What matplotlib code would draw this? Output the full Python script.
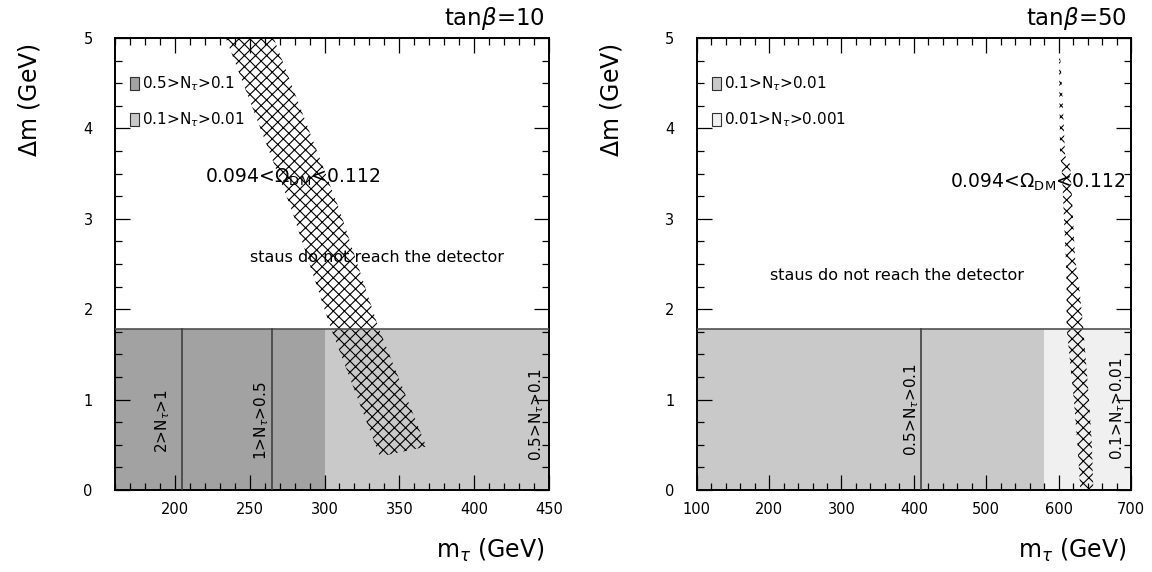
import matplotlib
matplotlib.use('Agg')
import matplotlib.pyplot as plt
from matplotlib.patches import Rectangle
from matplotlib.ticker import MultipleLocator

plt.rcParams['font.family'] = 'DejaVu Sans'
plt.rcParams['hatch.linewidth'] = 0.8

TAU_MASS = 1.777

# tan(beta) = 10
tb10_edges = [160, 205, 265, 300, 450]
tb10_shade = ['#a2a2a2', '#a2a2a2', '#a2a2a2', '#c9c9c9']
tb10_dividers = [205, 265]
tb10_band_labels = [r'2>N$_\tau$>1', r'1>N$_\tau$>0.5', r'0.5>N$_\tau$>0.1']
tb10_legend = [r'0.5>N$_\tau$>0.1', r'0.1>N$_\tau$>0.01']
tb10_legend_col = ['#a2a2a2', '#c9c9c9']
# relic density band (left edge top->bottom, then right edge bottom->top)
tb10_om_m = [234, 278, 304, 337, 368, 336, 310, 266]
tb10_om_dm = [5.0, 3.1, 1.8, 0.37, 0.48, 1.8, 3.1, 5.0]

# tan(beta) = 50
tb50_edges = [100, 410, 580, 700]
tb50_shade = ['#c9c9c9', '#c9c9c9', '#f0f0f0']
tb50_dividers = [410]
tb50_band_labels = [r'0.5>N$_\tau$>0.1', r'0.1>N$_\tau$>0.01']
tb50_legend = [r'0.1>N$_\tau$>0.01', r'0.01>N$_\tau$>0.001']
tb50_legend_col = ['#c9c9c9', '#f0f0f0']
tb50_om_m = [600.5, 601, 602, 604, 610, 611, 611, 621, 626, 630,
             648, 646, 642, 634, 628, 623, 616, 609, 605, 601.5]
tb50_om_dm = [4.9, 4.4, 3.7, 3.6, 2.54, 2.29, 1.8, 1.0, 0.5, 0.0,
              0.0, 0.5, 1.0, 1.8, 2.29, 2.54, 3.6, 3.7, 4.4, 4.9]


def style_axes(ax, xlim, xmajor, xminor):
    ax.set_xlim(xlim)
    ax.set_ylim(0, 5)
    ax.xaxis.set_major_locator(MultipleLocator(xmajor))
    ax.xaxis.set_minor_locator(MultipleLocator(xminor))
    ax.yaxis.set_major_locator(MultipleLocator(1))
    ax.yaxis.set_minor_locator(MultipleLocator(0.25))
    ax.tick_params(which='both', direction='in', top=True, right=True, width=0.9)
    ax.tick_params(which='major', length=11)
    ax.tick_params(which='minor', length=5)
    ax.tick_params(axis='x', which='major', pad=9, labelsize=10.5)
    ax.tick_params(axis='y', which='major', pad=16, labelsize=10.5)
    for s in ax.spines.values():
        s.set_linewidth(1.4)


def draw_panel(ax, edges, shades, dividers, om_m, om_dm, legend, legend_col, tanb):
    for lo, hi, c in zip(edges[:-1], edges[1:], shades):
        ax.fill_between([lo, hi], 0, TAU_MASS, color=c, lw=0, zorder=1)
    ax.axhline(TAU_MASS, color='#505050', lw=1.2, zorder=3)
    for d in dividers:
        ax.plot([d, d], [0, TAU_MASS], color='#404040', lw=1.2, zorder=3)
    ax.fill(om_m, om_dm, facecolor='none', edgecolor='black', hatch='xxx', lw=0, zorder=2)
    # legend swatches
    for i, (lab, c) in enumerate(zip(legend, legend_col)):
        y = 0.885 - i * 0.08
        ax.add_patch(Rectangle((0.035, y), 0.021, 0.028, transform=ax.transAxes,
                               facecolor=c, edgecolor='#303030', lw=0.8, zorder=4))
        ax.text(0.062, y + 0.014, lab, transform=ax.transAxes, fontsize=11,
                va='center', ha='left', zorder=4)
    ax.text(0.99, 1.073, r'tan$\beta$=' + tanb, transform=ax.transAxes,
            ha='right', va='top', fontsize=16.5)
    ax.set_xlabel(r'm$_\tau$ (GeV)', fontsize=17, loc='right')
    ax.xaxis.set_label_coords(0.99, -0.104)
    ax.set_ylabel(r'$\Delta$m (GeV)', fontsize=17, loc='top')
    ax.yaxis.set_label_coords(-0.168, 0.989)


fig = plt.figure(figsize=(11.52, 5.72), dpi=100)
ax1 = fig.add_axes([115 / 1152, 82 / 572, 434 / 1152, 452 / 572])
ax2 = fig.add_axes([696.7 / 1152, 82 / 572, 434.3 / 1152, 452 / 572])

style_axes(ax1, (160, 450), 50, 10)
style_axes(ax2, (100, 700), 100, 20)

draw_panel(ax1, tb10_edges, tb10_shade, tb10_dividers, tb10_om_m, tb10_om_dm,
           tb10_legend, tb10_legend_col, '10')
draw_panel(ax2, tb50_edges, tb50_shade, tb50_dividers, tb50_om_m, tb50_om_dm,
           tb50_legend, tb50_legend_col, '50')

# rotated region labels
for (x, y), lab in zip([(192, 0.76), (258, 0.77), (442, 0.84)], tb10_band_labels):
    ax1.text(x, y, lab, rotation=90, ha='center', va='center', fontsize=11, zorder=5)
for (x, y), lab in zip([(397, 0.89), (682, 0.9)], tb50_band_labels):
    ax2.text(x, y, lab, rotation=90, ha='center', va='center', fontsize=11, zorder=5)

omega_txt = r'0.094<$\Omega_{\rm DM}$<0.112'
ax1.text(220, 3.40, omega_txt, fontsize=13.5, va='baseline', zorder=5)
ax2.text(450, 3.34, omega_txt, fontsize=13.5, va='baseline', zorder=5)

ax1.text(250, 2.57, 'staus do not reach the detector', fontsize=11.5, va='center', zorder=5)
ax2.text(201, 2.37, 'staus do not reach the detector', fontsize=11.5, va='center', zorder=5)

fig.savefig('out.png', dpi=100)
